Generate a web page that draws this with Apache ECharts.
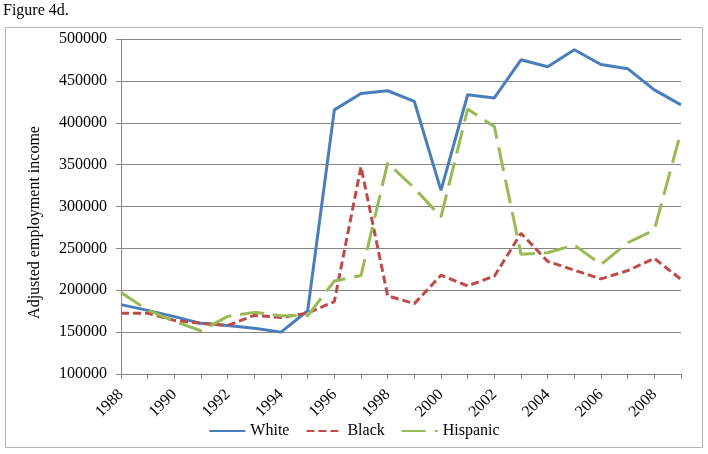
<!DOCTYPE html>
<html>
<head>
<meta charset="utf-8">
<script src="https://cdn.jsdelivr.net/npm/echarts@6/dist/echarts.min.js"></script>
<style>
  html, body { margin: 0; padding: 0; background: #fff; }
  #chart { width: 708px; height: 454px; }
</style>
</head>
<body>
<div id="chart"></div>
<script>
// data
const years = ['1988','1989','1990','1991','1992','1993','1994','1995','1996','1997','1998',
  '1999','2000','2001','2002','2003','2004','2005','2006','2007','2008','2009']
const white = [182800,176000,168500,160500,157800,154500,150000,175500,415400,435000,438200,
  425400,319200,433400,429600,475200,466800,487200,469600,464600,439300,421400]
const black = [172600,172600,164000,160500,158000,170000,167500,172800,186500,347600,193300,
  184000,218000,205300,216800,268000,234500,224000,213500,223500,238000,213000]
const hispanic = [197200,176500,162700,151600,168800,173600,169600,169500,211000,217500,352000,
  322000,287500,416300,395500,243000,244700,254000,230800,256700,271900,389500]
const yTicks = { min: 100000, max: 500000, step: 50000 }

const serif = '"Liberation Serif", "DejaVu Serif", serif'
const gray = '#868686'

const lineSeries = (name, data, color, dash) => ({
  type: 'line',
  name: name,
  data: data,
  showSymbol: false,
  symbol: 'none',
  color: color,
  lineStyle: { width: 3, color: color, type: dash },
  z: 3
})

const option = {
  animation: false,
  textStyle: { fontFamily: serif },
  graphic: [
    { type: 'text', left: 3, top: 3, style: { text: 'Figure 4d.', font: '16px ' + serif, fill: '#000' } },
    { type: 'rect', shape: { x: 5.5, y: 27.5, width: 697, height: 420 },
      style: { fill: 'none', stroke: '#b4b4b4', lineWidth: 1 }, z: -1 }
  ],
  grid: { left: 121, right: 27, top: 39, bottom: 80 },
  legend: {
    bottom: 10,
    left: 'center',
    itemWidth: 36,
    itemHeight: 12,
    itemGap: 16,
    itemStyle: { opacity: 0 },
    textStyle: { fontFamily: serif, fontSize: 16, color: '#000' },
    data: ['White', 'Black', 'Hispanic']
  },
  xAxis: {
    type: 'category',
    data: years,
    boundaryGap: false,
    axisLine: { lineStyle: { color: gray, width: 1 } },
    axisTick: { show: true, interval: 0, length: 5, lineStyle: { color: gray } },
    axisLabel: {
      interval: 1,
      rotate: 45,
      margin: 18,
      fontFamily: serif,
      fontSize: 16,
      color: '#000'
    },
    splitLine: { show: false }
  },
  yAxis: {
    type: 'value',
    min: yTicks.min,
    max: yTicks.max,
    interval: yTicks.step,
    name: 'Adjusted employment income',
    nameLocation: 'middle',
    nameGap: 78,
    nameTextStyle: { fontFamily: serif, fontSize: 16, color: '#000', padding: [0, 32, 0, 0] },
    axisLine: { show: true, lineStyle: { color: gray, width: 1 } },
    axisTick: { show: true, length: 5, lineStyle: { color: gray } },
    axisLabel: {
      margin: 14,
      fontFamily: serif,
      fontSize: 16,
      color: '#000',
      formatter: (v) => String(v)
    },
    splitLine: { show: true, lineStyle: { color: gray, width: 1 } }
  },
  series: [
    lineSeries('White', white, '#4a7ebb', 'solid'),
    lineSeries('Black', black, '#be4b48', [8, 4]),
    lineSeries('Hispanic', hispanic, '#98b954', [24, 9])
  ]
}

const chart = echarts.init(document.getElementById('chart'))
chart.setOption(option)
</script>
</body>
</html>
